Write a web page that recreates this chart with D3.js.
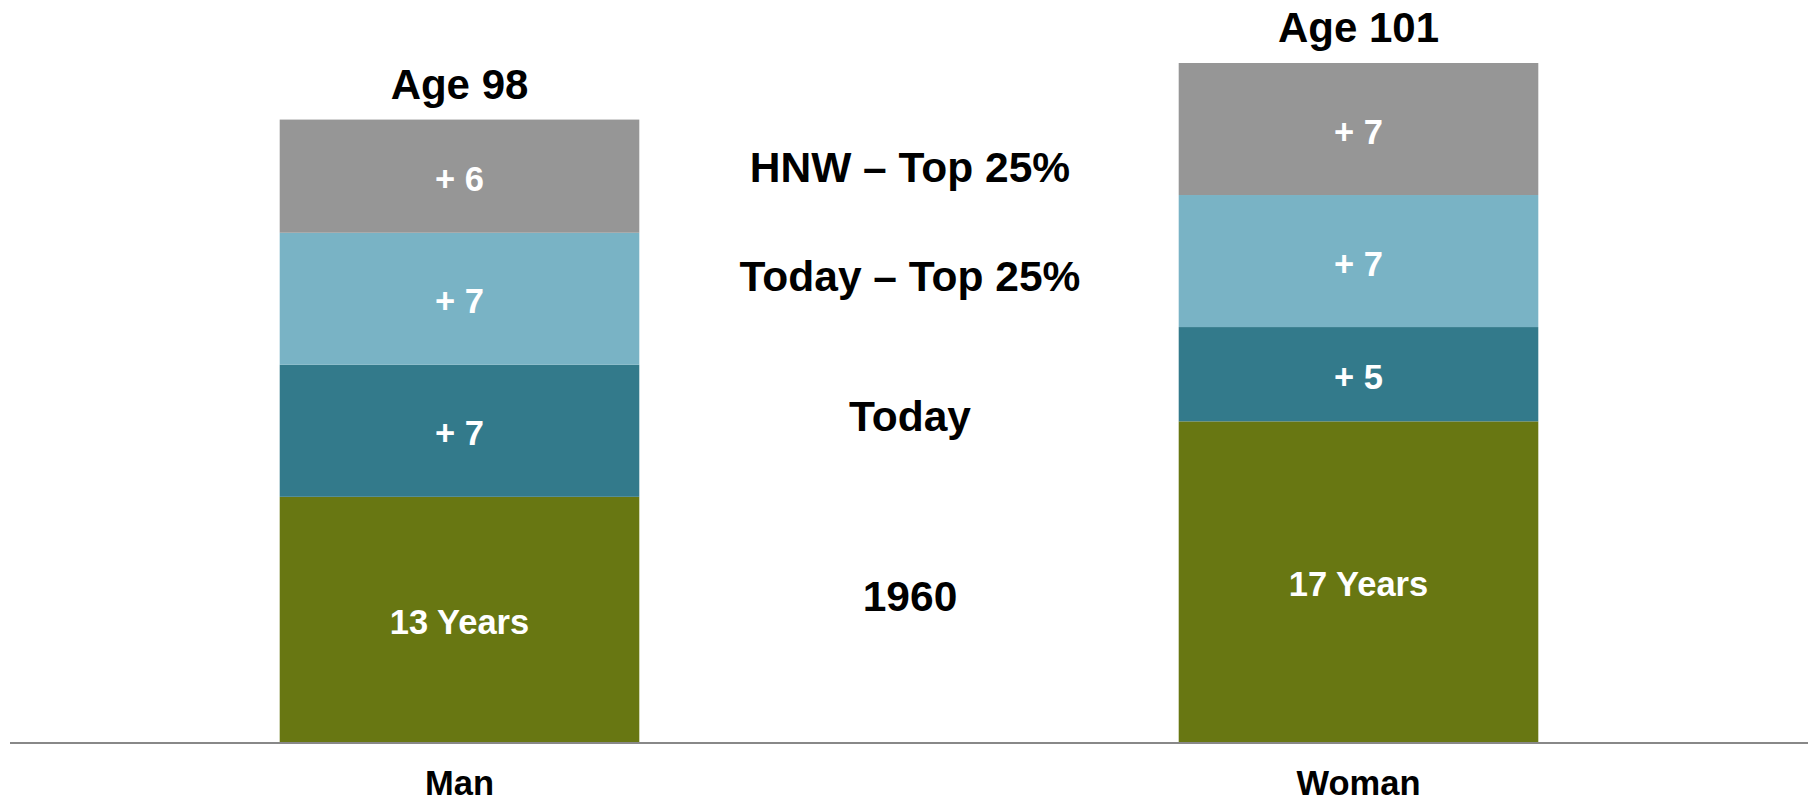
<!DOCTYPE html>
<html>
<head>
    <meta charset="utf-8">
    <title>Life Expectancy at 65</title>
    <style>
        body { margin: 0; background: #fff; }
        text { font-family: "Liberation Sans", Arial, Helvetica, sans-serif; font-weight: bold; }
    </style>
</head>
<body>
    <script src="https://cdnjs.cloudflare.com/ajax/libs/d3/7.9.0/d3.min.js"></script>
    <script>

        // data
        const categories = ["Man", "Woman"];
        const series = ["1960", "Today", "Today – Top 25%", "HNW – Top 25%"];
        const base1960 = [13, 17];
        const gainToday = [7, 5];
        const gainTop25 = [7, 7];
        const gainHNW = [6, 7];
        const ageLabels = ["Age 98", "Age 101"];
        const segmentLabels = [
            ["13 Years", "+ 7", "+ 7", "+ 6"],
            ["17 Years", "+ 5", "+ 7", "+ 7"]
        ];
        const colors = ["#687712", "#337a8b", "#79b3c5", "#969696"];

        const width = 1808;
        const height = 801;
        const baseline = 742;

        const svg = d3.select("body")
            .append("svg")
            .attr("width", width)
            .attr("height", height);

        const rows = categories.map((c, i) => ({
            cat: c,
            "1960": base1960[i],
            "Today": gainToday[i],
            "Today – Top 25%": gainTop25[i],
            "HNW – Top 25%": gainHNW[i]
        }));

        const stacked = d3.stack().keys(series)(rows);

        const x = d3.scaleBand()
            .domain(categories)
            .range([10, width])
            .paddingInner(0.6)
            .paddingOuter(0.3);

        const y = d3.scaleLinear()
            .domain([0, 36])
            .range([baseline, 63]);

        // stacked segments
        const layer = svg.selectAll(".layer")
            .data(stacked)
            .enter()
            .append("g")
            .attr("class", "layer")
            .attr("fill", (d, i) => colors[i]);

        layer.selectAll("rect")
            .data(d => d)
            .enter()
            .append("rect")
            .attr("x", d => x(d.data.cat))
            .attr("y", d => y(d[1]))
            .attr("width", x.bandwidth())
            .attr("height", d => y(d[0]) - y(d[1]));

        // labels inside segments
        stacked.forEach((s, si) => {
            svg.selectAll(".seg" + si)
                .data(s)
                .enter()
                .append("text")
                .attr("x", d => x(d.data.cat) + x.bandwidth() / 2)
                .attr("y", d => (y(d[0]) + y(d[1])) / 2)
                .attr("dy", "0.42em")
                .attr("text-anchor", "middle")
                .attr("font-size", "34.5px")
                .attr("fill", "#fff")
                .text((d, i) => segmentLabels[i][si]);
        });

        // age totals above bars
        svg.selectAll(".age")
            .data(stacked[stacked.length - 1])
            .enter()
            .append("text")
            .attr("x", d => x(d.data.cat) + x.bandwidth() / 2)
            .attr("y", d => y(d[1]) - 21)
            .attr("text-anchor", "middle")
            .attr("font-size", "42px")
            .attr("fill", "#000")
            .text((d, i) => ageLabels[i]);

        // series names in the middle
        const legendY = [611, 431, 291, 182];
        svg.selectAll(".legend")
            .data(series)
            .enter()
            .append("text")
            .attr("x", 910)
            .attr("y", (d, i) => legendY[i])
            .attr("text-anchor", "middle")
            .attr("font-size", "42.5px")
            .attr("fill", "#000")
            .text(d => d);

        // x axis
        const axis = svg.append("g")
            .attr("transform", `translate(0,${baseline + 1})`)
            .call(d3.axisBottom(x).tickSize(0).tickPadding(0));

        axis.select(".domain")
            .attr("d", `M10,0H${width}`)
            .attr("stroke", "#888")
            .attr("stroke-width", 2);

        axis.selectAll("text")
            .attr("font-size", "34.5px")
            .attr("fill", "#000")
            .attr("y", 52)
            .attr("dy", null)
            .style("font-family", "'Liberation Sans', Arial, sans-serif")
            .style("font-weight", "bold");

    </script>
</body>
</html>
